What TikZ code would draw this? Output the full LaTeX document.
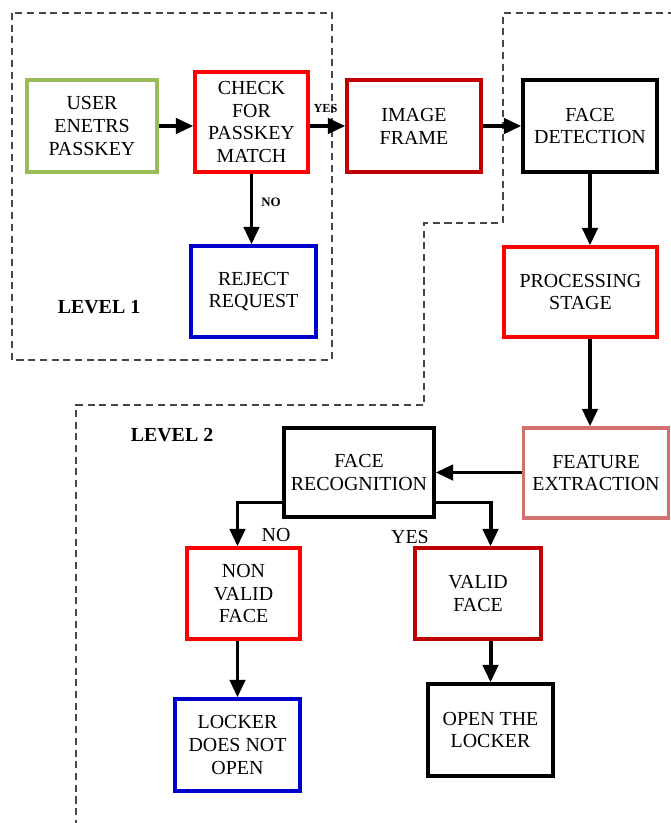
\documentclass[tikz,border=0pt]{standalone}
\usepackage{fontspec}
\setmainfont{Liberation Serif}
\usepackage{tikz}
\usetikzlibrary{arrows.meta}

\definecolor{boxgreen}{RGB}{155,187,89}
\definecolor{boxred}{RGB}{255,0,0}
\definecolor{boxdarkred}{RGB}{192,0,0}
\definecolor{boxblue}{RGB}{0,0,204}
\definecolor{boxrose}{RGB}{209,114,110}
\definecolor{levelgray}{RGB}{70,70,70}

\begin{document}
\begin{tikzpicture}[x=0.03cm,y=-0.03cm]
  \tikzset{block/.style = {shape=rectangle,draw,line width=2.8pt,align=center,inner sep=2pt,font=\fontsize{17}{19.5}\selectfont}}
    \tikzset{greenblock/.style = {block,draw=boxgreen}}
    \tikzset{redblock/.style = {block,draw=boxred}}
    \tikzset{darkredblock/.style = {block,draw=boxdarkred}}
    \tikzset{blueblock/.style = {block,draw=boxblue}}
    \tikzset{roseblock/.style = {block,draw=boxrose}}
    \tikzset{blackblock/.style = {block,draw=black}}
  \tikzset{levelline/.style = {draw=levelgray,line width=1pt,dash pattern=on 6pt off 4pt}}
  \tikzset{%
  tipF/.tip={Triangle[length=15pt,width=13pt]},
}
  \tikzset{edge/.style = {-tipF,line width=3.4pt}}

    \useasboundingbox (0,0) rectangle (670,823);

    % levels
    \draw[levelline] (12,13) rectangle (332,360);
    \draw[levelline] (675,13) -- (503,13) -- (503,223) -- (424,223) -- (424,405) -- (76,405) -- (76,830);
    \node[font=\fontsize{17}{19.5}\selectfont\bfseries] (L1) at (99,307) {LEVEL 1};
    \node[font=\fontsize{17}{19.5}\selectfont\bfseries] (L2) at (172,435) {LEVEL 2};

	\node[greenblock, minimum width=3.9cm, minimum height=2.76cm] (USER) at (92,126) {USER\\ENETRS\\PASSKEY};
	\node[redblock, minimum width=3.39cm, minimum height=3cm] (CHECK) at (251.5,122) {CHECK\\FOR\\PASSKEY\\MATCH};
	\node[blueblock, minimum width=3.75cm, minimum height=2.73cm] (REJECT) at (253.5,291.5) {REJECT\\REQUEST};
	\node[darkredblock, minimum width=4.02cm, minimum height=2.76cm] (IMAGE) at (414,126) {IMAGE\\FRAME};
	\node[blackblock, minimum width=4.02cm, minimum height=2.76cm] (DETECT) at (590,126) {FACE\\DETECTION};
	\node[redblock, minimum width=4.59cm, minimum height=2.7cm] (PROC) at (580.5,292) {PROCESSING\\STAGE};
	\node[roseblock, minimum width=4.35cm, minimum height=2.7cm] (FEATURE) at (596,473) {FEATURE\\EXTRACTION};
	\node[blackblock, minimum width=4.5cm, minimum height=2.67cm] (RECOG) at (359,472.5) {FACE\\RECOGNITION};
	\node[redblock, minimum width=3.39cm, minimum height=2.73cm] (NONVALID) at (243.5,593.5) {NON\\VALID\\FACE};
	\node[darkredblock, minimum width=3.78cm, minimum height=2.73cm] (VALID) at (478,593.5) {VALID\\FACE};
	\node[blueblock, minimum width=3.75cm, minimum height=2.76cm] (LOCKED) at (237.5,745) {LOCKER\\DOES NOT\\OPEN};
	\node[blackblock, minimum width=3.75cm, minimum height=2.76cm] (OPEN) at (490.5,730) {OPEN THE\\LOCKER};

    \draw[edge] (USER.east) -- (USER.east -| CHECK.west);
    \draw[edge] (CHECK.east |- IMAGE) -- (IMAGE.west);
    \draw[edge] (CHECK.south) -- (CHECK.south |- REJECT.north);
    \draw[edge] (IMAGE.east) -- (DETECT.west);
    \draw[edge] (DETECT.south) -- (DETECT.south |- PROC.north);
    \draw[edge] (PROC.south -| DETECT) -- (FEATURE.north -| DETECT);
    \draw[edge] (FEATURE.west |- RECOG) -- (RECOG.east);
    \draw[edge] ([yshift=-0.9cm]RECOG.west) -| (LOCKED.north |- NONVALID.north);
    \draw[edge] ([yshift=-0.9cm]RECOG.east) -| (OPEN.north |- VALID.north);
    \draw[edge] (NONVALID.south -| LOCKED) -- (LOCKED.north);
    \draw[edge] (VALID.south -| OPEN) -- (OPEN.north);

    \node[font=\fontsize{10.5}{12}\selectfont\bfseries] (YES1) at (325.5,108) {YES};
    \node[font=\fontsize{11}{12}\selectfont\bfseries] (NO1) at (271,202) {NO};
    \node[font=\fontsize{17}{19.5}\selectfont] (NO2) at (276,535) {NO};
    \node[font=\fontsize{17}{19.5}\selectfont] (YES2) at (410,537) {YES};

\end{tikzpicture}
\end{document}
